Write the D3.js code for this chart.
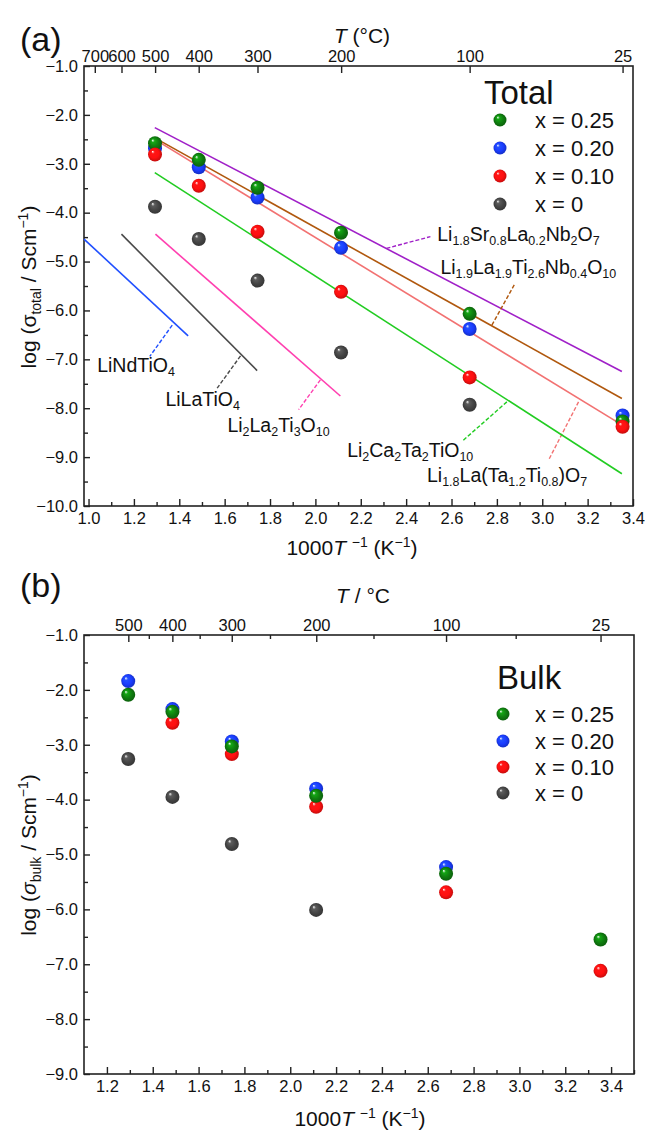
<!DOCTYPE html>
<html>
<head>
<meta charset="utf-8">
<script src="https://cdn.jsdelivr.net/npm/d3@7"></script>
<style>
  html, body { margin: 0; padding: 0; background: #fff; }
  svg text { font-family: "Liberation Sans", Arial, sans-serif; fill: #111; }
</style>
</head>
<body>
<svg id="chart" width="645" height="1131"></svg>
<script>
// ---------------- DATA ----------------
const tempC = [500, 400, 300, 200, 100, 25];
const invT = [1.293, 1.486, 1.745, 2.113, 2.680, 3.354];

// Panel (a): total conductivity
const totalX025 = [-2.58, -2.92, -3.49, -4.41, -6.07, -8.27];
const totalX020 = [-2.68, -3.07, -3.69, -4.72, -6.38, -8.15];
const totalX010 = [-2.81, -3.45, -4.39, -5.62, -7.37, -8.38];
const totalX000 = [-3.88, -4.54, -5.39, -6.86, -7.93, null];

// Panel (b): bulk conductivity
const bulkX025 = [-2.09, -2.40, -3.03, -3.93, -5.35, -6.55];
const bulkX020 = [-1.84, -2.35, -2.94, -3.80, -5.23, null];
const bulkX010 = [null, -2.60, -3.17, -4.13, -5.69, -7.12];
const bulkX000 = [-3.26, -3.95, -4.81, -6.01, null, null];

const seriesNames = ["x = 0.25", "x = 0.20", "x = 0.10", "x = 0"];
const seriesColors = ["#0f7d0f", "#1a3cff", "#ff1010", "#454545"];

// Literature reference lines (panel a): endpoints in (1000/T, log sigma)
const refNames  = ["Li{1.8}Sr{0.8}La{0.2}Nb{2}O{7}", "Li{1.9}La{1.9}Ti{2.6}Nb{0.4}O{10}", "Li{1.8}La(Ta{1.2}Ti{0.8})O{7}",
                   "Li{2}Ca{2}Ta{2}TiO{10}", "LiNdTiO{4}", "LiLaTiO{4}", "Li{2}La{2}Ti{3}O{10}"];
const refColors = ["#a020c8", "#b0580e", "#f27272", "#22cc22", "#2050ff", "#4a4a4a", "#ff40b0"];
const refX1 = [1.292, 1.292, 1.292, 1.292, 0.98, 1.145, 1.295];
const refY1 = [-2.26, -2.47, -2.50, -3.18, -4.54, -4.44, -4.44];
const refX2 = [3.351, 3.351, 3.351, 3.351, 1.439, 1.743, 2.110];
const refY2 = [-7.25, -7.80, -8.34, -9.34, -6.52, -7.23, -7.75];
// leader lines (from line to label) and label anchor
const leadX1 = [2.313, 2.778, 3.160, 2.844, 1.369, 1.670, 2.022];
const leadY1 = [-4.73, -6.30, -7.87, -7.87, -6.30, -6.93, -7.42];
const leadX2 = [2.507, 2.881, 3.028, 2.646, 1.270, 1.567, 1.926];
const leadY2 = [-4.49, -5.44, -9.06, -8.68, -6.94, -7.59, -8.03];
const labX   = [2.537, 2.551, 2.492, 2.140, 1.038, 1.339, 1.612];
const labY   = [-4.46, -5.13, -9.38, -8.88, -7.13, -7.83, -8.36];

const topTempsA = [700, 600, 500, 400, 300, 200, 100, 25];
const topTempsB = [500, 400, 300, 200, 100, 25];
const topMinorB = [450, 350, 250, 150, 62];

// ---------------- DRAW ----------------
const svg = d3.select("#chart");
const defs = svg.append("defs");
seriesColors.forEach((c, i) => {
  const g = defs.append("radialGradient").attr("id", "sph" + i)
    .attr("cx", "50%").attr("cy", "50%").attr("r", "55%")
    .attr("fx", "32%").attr("fy", "28%");
  const col = d3.color(c);
  g.append("stop").attr("offset", "0%").attr("stop-color", "#ffffff");
  g.append("stop").attr("offset", "22%").attr("stop-color", col.brighter(0.8).formatHex());
  g.append("stop").attr("offset", "60%").attr("stop-color", c);
  g.append("stop").attr("offset", "100%").attr("stop-color", col.darker(0.9).formatHex());
});

function toKinv(t) { return 1000 / (t + 273.15); }

function richText(sel, str, size) {
  // "{...}" = subscript
  const parts = str.split(/(\{[^}]*\})/).filter(s => s.length);
  let sub = false;
  const sh = size * 0.2;
  parts.forEach(p => {
    if (p.startsWith("{")) {
      sel.append("tspan").attr("font-size", size * 0.64).attr("dy", sh).text(p.slice(1, -1));
      sub = true;
    } else {
      sel.append("tspan").attr("dy", sub ? -sh : 0).text(p);
      sub = false;
    }
  });
}

function panel(cfg) {
  const x = d3.scaleLinear().domain(cfg.xDomain).range([cfg.left, cfg.right]);
  const y = d3.scaleLinear().domain([-1, cfg.yMin]).range([cfg.top, cfg.bottom]);
  const g = svg.append("g");
  const fmt = d3.format(".1f");

  // bottom axis
  g.append("g").attr("transform", `translate(0,${cfg.bottom})`)
    .call(d3.axisBottom(x).tickValues(d3.range(cfg.xMajor[0], cfg.xMajor[1] + 0.001, 0.2)).tickFormat(fmt)
      .tickSizeInner(-7).tickSizeOuter(0).tickPadding(6));
  g.append("g").attr("transform", `translate(0,${cfg.bottom})`)
    .call(d3.axisBottom(x).tickValues(d3.range(cfg.xMinor[0], cfg.xMinor[1] + 0.001, 0.2)).tickFormat("")
      .tickSizeInner(-4).tickSizeOuter(0));
  // left axis
  g.append("g").attr("transform", `translate(${cfg.left},0)`)
    .call(d3.axisLeft(y).tickValues(d3.range(-1, cfg.yMin - 0.001, -1)).tickFormat(fmt)
      .tickSizeInner(-6).tickSizeOuter(0).tickPadding(6));
  g.append("g").attr("transform", `translate(${cfg.left},0)`)
    .call(d3.axisLeft(y).tickValues(d3.range(-1.5, cfg.yMin, -1)).tickFormat("")
      .tickSizeInner(-4).tickSizeOuter(0));
  // top axis (temperature)
  g.append("g").attr("transform", `translate(0,${cfg.top})`)
    .call(d3.axisTop(x).tickValues(cfg.topTemps.map(toKinv)).tickFormat((d, i) => cfg.topTemps[i])
      .tickSizeInner(-7).tickSizeOuter(0).tickPadding(4));
  if (cfg.topMinor) {
    g.append("g").attr("transform", `translate(0,${cfg.top})`)
      .call(d3.axisTop(x).tickValues(cfg.topMinor.map(toKinv)).tickFormat("")
        .tickSizeInner(-4).tickSizeOuter(0));
  }
  g.selectAll(".domain").remove();
  g.selectAll(".tick line").attr("stroke", "#222").attr("stroke-width", 1.4);
  g.selectAll(".tick text").attr("font-size", 16.5).attr("fill", "#111")
    .attr("font-family", "'Liberation Sans', Arial, sans-serif");
  // frame
  g.append("rect").attr("x", cfg.left).attr("y", cfg.top)
    .attr("width", cfg.right - cfg.left).attr("height", cfg.bottom - cfg.top)
    .attr("fill", "none").attr("stroke", "#222").attr("stroke-width", 1.6);
  return { x, y, g };
}

// ---------- Panel (a) ----------
const A = panel({ left: 84, right: 633, top: 66, bottom: 506, xDomain: [0.98, 3.4], yMin: -10,
  xMajor: [1.0, 3.4], xMinor: [1.1, 3.3], topTemps: topTempsA });

// reference lines
refNames.forEach((n, i) => {
  A.g.append("line").attr("x1", A.x(refX1[i])).attr("y1", A.y(refY1[i]))
    .attr("x2", A.x(refX2[i])).attr("y2", A.y(refY2[i]))
    .attr("stroke", refColors[i]).attr("stroke-width", 1.6);
  A.g.append("line").attr("x1", A.x(leadX1[i])).attr("y1", A.y(leadY1[i]))
    .attr("x2", A.x(leadX2[i])).attr("y2", A.y(leadY2[i]))
    .attr("stroke", refColors[i]).attr("stroke-width", 1.4).attr("stroke-dasharray", "4,2");
  const t = A.g.append("text").attr("x", A.x(labX[i])).attr("y", A.y(labY[i]) + 6)
    .attr("font-size", 19.5);
  richText(t, n, 19.5);
});

function drawDots(P, seriesList, order) {
  order.forEach(si => {
    const vals = seriesList[si];
    P.g.append("g").selectAll("circle")
      .data(invT.map((k, j) => ({ k, v: vals[j] })).filter(d => d.v !== null))
      .join("circle")
      .attr("cx", d => P.x(d.k)).attr("cy", d => P.y(d.v)).attr("r", 7)
      .attr("fill", `url(#sph${si})`);
  });
}
drawDots(A, [totalX025, totalX020, totalX010, totalX000], [3, 1, 0, 2]);

function legend(title, tx, ty, mx, tX, rows) {
  svg.append("text").attr("x", tx).attr("y", ty).attr("font-size", 33).text(title);
  seriesNames.forEach((n, i) => {
    svg.append("circle").attr("cx", mx).attr("cy", rows[i]).attr("r", 6.5).attr("fill", `url(#sph${i})`);
    svg.append("text").attr("x", tX).attr("y", rows[i] + 7.5).attr("font-size", 22).text(n);
  });
}
legend("Total", 484, 104, 500, 535, [120, 148, 176, 204]);

// titles panel a
svg.append("text").attr("x", 20).attr("y", 51).attr("font-size", 34).text("(a)");
const tA = svg.append("text").attr("x", 362).attr("y", 43).attr("text-anchor", "middle").attr("font-size", 21);
tA.append("tspan").attr("font-style", "italic").text("T");
tA.append("tspan").text(" (°C)");

function xTitle(cx, cy) {
  const t = svg.append("text").attr("x", cx).attr("y", cy).attr("text-anchor", "middle").attr("font-size", 21);
  t.append("tspan").text("1000");
  t.append("tspan").attr("font-style", "italic").text("T ");
  t.append("tspan").attr("font-size", 14).attr("dy", -8).text("−1");
  t.append("tspan").attr("dy", 8).text(" (K");
  t.append("tspan").attr("font-size", 14).attr("dy", -8).text("−1");
  t.append("tspan").attr("dy", 8).text(")");
}
xTitle(352, 555);

function yTitle(cx, cy, sub, italicSigma) {
  const t = svg.append("text").attr("transform", `translate(${cx},${cy}) rotate(-90)`)
    .attr("text-anchor", "middle").attr("font-size", 21);
  t.append("tspan").text("log (");
  t.append("tspan").attr("font-style", italicSigma ? "italic" : "normal").text("σ");
  t.append("tspan").attr("font-size", 14).attr("dy", 5).text(sub);
  t.append("tspan").attr("dy", -5).text(" / Scm");
  t.append("tspan").attr("font-size", 14).attr("dy", -8).text("−1");
  t.append("tspan").attr("dy", 8).text(")");
}
yTitle(36, 287, "total", false);

// ---------- Panel (b) ----------
const B = panel({ left: 84, right: 634, top: 635, bottom: 1074, xDomain: [1.1, 3.5], yMin: -9,
  xMajor: [1.2, 3.4], xMinor: [1.3, 3.5], topTemps: topTempsB, topMinor: topMinorB });

drawDots(B, [bulkX025, bulkX020, bulkX010, bulkX000], [3, 2, 1, 0]);
legend("Bulk", 497, 689, 503, 535, [714, 741, 767, 793]);

svg.append("text").attr("x", 20).attr("y", 597).attr("font-size", 34).text("(b)");
const tB = svg.append("text").attr("x", 363).attr("y", 603).attr("text-anchor", "middle").attr("font-size", 21);
tB.append("tspan").attr("font-style", "italic").text("T");
tB.append("tspan").text(" / °C");
xTitle(360, 1126);
yTitle(36, 855, "bulk", true);
</script>
</body>
</html>
